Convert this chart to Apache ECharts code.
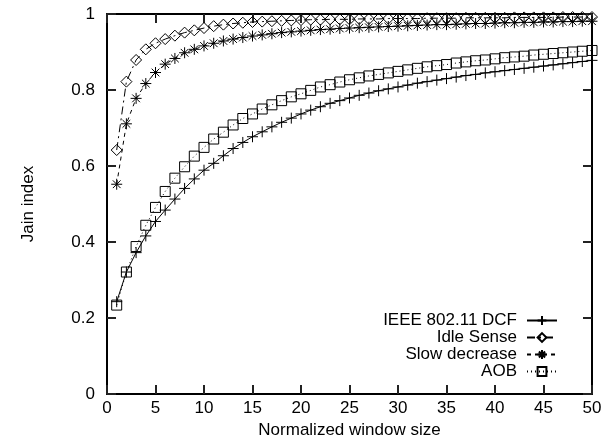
<!DOCTYPE html>
<html>
<head>
<meta charset="utf-8">
<script src="https://cdn.jsdelivr.net/npm/echarts@6/dist/echarts.min.js"></script>
<style>html,body{margin:0;padding:0;background:#fff}#c{width:609px;height:439px}</style>
</head>
<body>
<div id="c"></div>
<script>
const windowSizes = [1,2,3,4,5,6,7,8,9,10,11,12,13,14,15,16,17,18,19,20,21,22,23,24,25,26,27,28,29,30,31,32,33,34,35,36,37,38,39,40,41,42,43,44,45,46,47,48,49,50];
const dcf = [0.243,0.321,0.372,0.416,0.454,0.484,0.513,0.541,0.566,0.589,0.607,0.627,0.646,0.662,0.677,0.690,0.703,0.715,0.726,0.737,0.747,0.756,0.765,0.772,0.779,0.786,0.792,0.798,0.803,0.808,0.813,0.818,0.822,0.826,0.830,0.834,0.838,0.841,0.845,0.848,0.851,0.854,0.857,0.860,0.863,0.866,0.869,0.872,0.875,0.878];
const idleSense = [0.642,0.822,0.879,0.907,0.923,0.934,0.943,0.951,0.957,0.963,0.968,0.972,0.975,0.977,0.979,0.980,0.981,0.982,0.983,0.984,0.985,0.985,0.986,0.986,0.986,0.987,0.987,0.987,0.988,0.988,0.988,0.988,0.989,0.989,0.989,0.989,0.990,0.990,0.990,0.990,0.990,0.991,0.991,0.991,0.991,0.991,0.992,0.992,0.992,0.992];
const slowDecrease = [0.552,0.711,0.778,0.817,0.846,0.868,0.883,0.898,0.907,0.916,0.923,0.929,0.934,0.938,0.942,0.945,0.948,0.951,0.953,0.955,0.957,0.959,0.960,0.962,0.963,0.964,0.965,0.966,0.967,0.968,0.969,0.970,0.971,0.972,0.972,0.973,0.974,0.975,0.975,0.976,0.977,0.977,0.978,0.978,0.979,0.979,0.980,0.980,0.981,0.981];
const aob = [0.234,0.321,0.388,0.444,0.491,0.533,0.568,0.598,0.626,0.649,0.671,0.689,0.708,0.725,0.737,0.750,0.761,0.772,0.782,0.790,0.799,0.808,0.814,0.821,0.827,0.832,0.837,0.841,0.845,0.849,0.853,0.857,0.861,0.864,0.867,0.871,0.874,0.877,0.879,0.882,0.885,0.887,0.889,0.892,0.894,0.896,0.898,0.900,0.902,0.904];
const seriesNames = ['IEEE 802.11 DCF','Idle Sense','Slow decrease','AOB'];
const xTitle = 'Normalized window size';
const yTitle = 'Jain index';

const FONT = 'Liberation Sans, Arial, sans-serif';
const plus = 'path://M0,5L10,5M5,0L5,10';
const star = 'path://M0,5L10,5M5,0L5,10M1.5,1.5L8.5,8.5M1.5,8.5L8.5,1.5';
const diamond = 'path://M5,0L10,5L5,10L0,5Z';
const square = 'path://M0,0L10,0L10,10L0,10Z';

function pts(vals){ return windowSizes.map((x,i)=>[x, vals[i]]); }
function mk(name, vals, symbol, size, dash){
  return {
    name, type:'line', data: pts(vals), symbol, symbolSize: size, showSymbol:true,
    clip:false, z: 3,
    lineStyle:{color:'#000', width:1, type: dash},
    itemStyle:{color:'rgba(0,0,0,0)', borderColor:'#000', borderWidth:1},
    emphasis:{disabled:true}
  };
}
const chart = echarts.init(document.getElementById('c'), null, {renderer:'canvas'});
function axisLine(){ return {show:true, onZero:false, lineStyle:{color:'#000', width:2}}; }
function tick(){ return {show:true, inside:true, length:9, lineStyle:{color:'#222', width:2}}; }
chart.setOption({
  animation:false,
  backgroundColor:'#fff',
  grid:{left:107, right:17, top:14, bottom:45, containLabel:false, outerBoundsMode:'none'},
  legend:{
    orient:'vertical', right:46, top:307, align:'right',
    itemWidth:30, itemHeight:11, itemGap:0,
    textStyle:{fontFamily:FONT, fontSize:17, lineHeight:16.7, color:'#000', padding:[0,5,0,0]},
    data: seriesNames
  },
  xAxis:[
    {type:'value', min:0, max:50, interval:5, position:'bottom',
     axisLine:axisLine(), axisTick:tick(), splitLine:{show:false},
     axisLabel:{fontFamily:FONT, fontSize:17, color:'#000', margin:6},
     name:xTitle, nameLocation:'middle', nameGap:25,
     nameTextStyle:{fontFamily:FONT, fontSize:17, color:'#000'}},
    {type:'value', min:0, max:50, interval:5, position:'top',
     axisLine:axisLine(), axisTick:tick(), splitLine:{show:false}, axisLabel:{show:false}}
  ],
  yAxis:[
    {type:'value', min:0, max:1, interval:0.2, position:'left',
     axisLine:axisLine(), axisTick:tick(), splitLine:{show:false},
     axisLabel:{fontFamily:FONT, fontSize:17, color:'#000', margin:12,
       formatter:v=>String(Math.round(v*10)/10)},
     name:yTitle, nameLocation:'middle', nameGap:70,
     nameTextStyle:{fontFamily:FONT, fontSize:17, color:'#000'}},
    {type:'value', min:0, max:1, interval:0.2, position:'right',
     axisLine:axisLine(), axisTick:tick(), splitLine:{show:false}, axisLabel:{show:false}}
  ],
  series:[
    mk(seriesNames[0], dcf, plus, 11, 'solid'),
    mk(seriesNames[1], idleSense, diamond, 11, [8,4,2,4]),
    mk(seriesNames[2], slowDecrease, star, 11, [4,4]),
    mk(seriesNames[3], aob, square, 10, [1,3])
  ]
});
</script>
</body>
</html>
